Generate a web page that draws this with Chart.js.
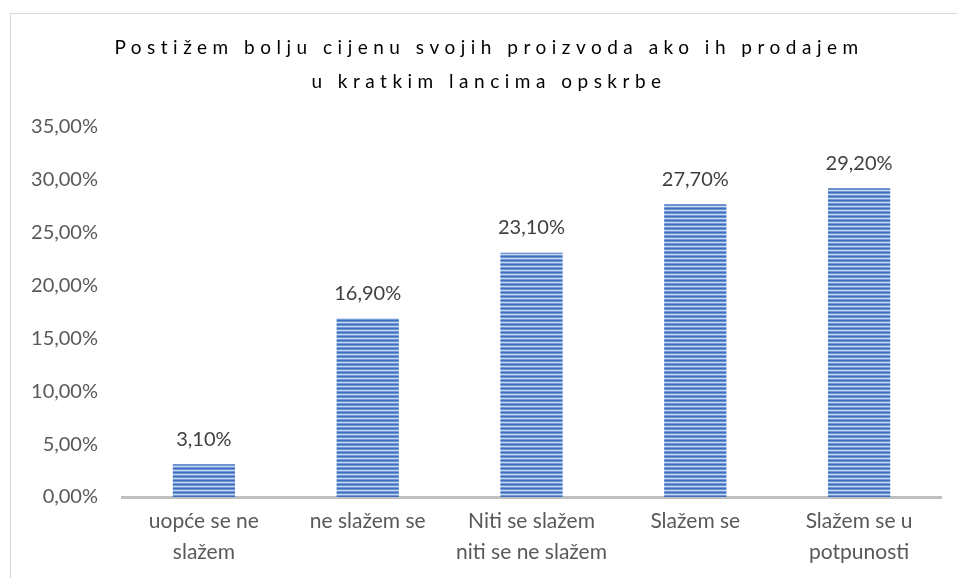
<!DOCTYPE html>
<html>
<head>
<meta charset="utf-8">
<script src="https://cdn.jsdelivr.net/npm/chart.js@4.4.1/dist/chart.umd.min.js"></script>
<style>
  html, body { margin: 0; padding: 0; background: #fff; }
  #wrap { position: relative; width: 957px; height: 578px; }
  #frame { position: absolute; left: 10px; top: 13px; right: -2px; bottom: -2px; border: 1px solid #d9d9d9; }
  canvas { position: absolute; left: 0; top: 0; }
</style>
</head>
<body>
<div id="wrap">
  <div id="frame"></div>
  <canvas id="barChart" width="957" height="578"></canvas>
</div>
<script>
// data
var titleLines = ["Postižem bolju cijenu svojih proizvoda ako ih prodajem", "u kratkim lancima opskrbe"];
var categories = [
  ["uopće se ne", "slažem"],
  ["ne slažem se"],
  ["Niti se slažem", "niti se ne slažem"],
  ["Slažem se"],
  ["Slažem se u", "potpunosti"]
];
var values = [3.1, 16.9, 23.1, 27.7, 29.2];
var yTicks = [0, 5, 10, 15, 20, 25, 30, 35];

function pct(v) {
  return v.toFixed(2).replace('.', ',') + '%';
}

// striped fill like the original
function makeStripes() {
  var c = document.createElement('canvas');
  c.width = 4; c.height = 4;
  var p = c.getContext('2d');
  var rows = ['#3f6dc0', '#6b94d3', '#c8d8ef', '#7199d5'];
  for (var i = 0; i < rows.length; i++) {
    p.fillStyle = rows[i];
    p.fillRect(0, i, 4, 1);
  }
  return p.createPattern(c, 'repeat');
}

var titlePlugin = {
  id: 'spacedTitle',
  afterDraw: function(chart) {
    var ctx = chart.ctx;
    ctx.save();
    ctx.font = '19px Lato';
    ctx.fillStyle = '#000';
    ctx.textAlign = 'center';
    ctx.textBaseline = 'middle';
    ctx.letterSpacing = '5.5px';
    ctx.fillText(titleLines[0], 489, 48);
    ctx.fillText(titleLines[1], 489, 82);
    ctx.restore();
  }
};

var labelPlugin = {
  id: 'valueLabels',
  afterDatasetsDraw: function(chart) {
    var ctx = chart.ctx;
    var meta = chart.getDatasetMeta(0);
    ctx.save();
    ctx.font = '20px Lato';
    ctx.fillStyle = '#404040';
    ctx.textAlign = 'center';
    ctx.textBaseline = 'bottom';
    meta.data.forEach(function(bar, i) {
      ctx.fillText(pct(values[i]), bar.x, bar.y - 15);
    });
    ctx.restore();
  }
};

window.onload = function() {
  var ctx = document.getElementById('barChart').getContext('2d');
  var chart = new Chart(ctx, {
    type: 'bar',
    data: {
      labels: categories,
      datasets: [{
        data: values,
        backgroundColor: makeStripes(),
        borderWidth: 0,
        barPercentage: 0.38,
        categoryPercentage: 1.0
      }]
    },
    options: {
      responsive: false,
      animation: false,
      layout: { padding: { top: 127, right: 16, left: 0, bottom: 0 } },
      plugins: {
        legend: { display: false },
        title: { display: false },
        tooltip: { enabled: false }
      },
      scales: {
        x: {
          grid: { display: false, drawTicks: false },
          border: { display: true, color: '#bfbfbf', width: 3 },
          ticks: {
            color: '#595959',
            font: { family: 'Lato', size: 21, lineHeight: 1.48 },
            padding: 9,
            maxRotation: 0,
            autoSkip: false
          },
          afterFit: function(scale) { scale.height = 81; }
        },
        y: {
          min: 0,
          max: 35,
          afterBuildTicks: function(scale) {
            scale.ticks = yTicks.map(function(v) { return { value: v }; });
          },
          grid: { display: false, drawTicks: false },
          border: { display: false },
          ticks: {
            color: '#595959',
            font: { family: 'Lato', size: 20 },
            padding: 24,
            callback: function(v) { return pct(v); }
          },
          afterFit: function(scale) { scale.width = 122; }
        }
      }
    },
    plugins: [titlePlugin, labelPlugin]
  });
};
</script>
</body>
</html>
